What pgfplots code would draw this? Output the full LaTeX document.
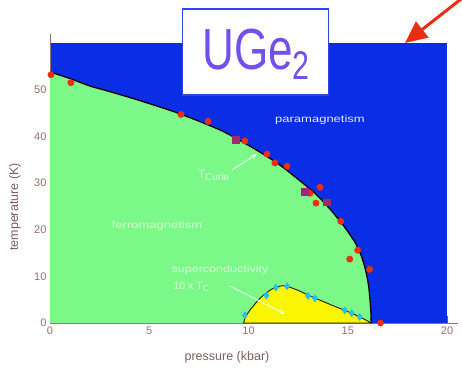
\documentclass[border=0pt]{standalone}
\usepackage{fontspec}
\setmainfont{Liberation Sans}
\usepackage{graphicx}
\usepackage{pgfplots}
\pgfplotsset{compat=1.18}
\usetikzlibrary{arrows.meta}
\definecolor{bgblue}{RGB}{10,46,230}
\definecolor{fmgreen}{RGB}{124,248,136}
\definecolor{scyellow}{RGB}{250,245,0}
\definecolor{ptred}{RGB}{235,45,20}
\definecolor{ptmag}{RGB}{160,40,110}
\definecolor{ptcyan}{RGB}{40,190,240}
\definecolor{ticklab}{RGB}{150,110,110}
\definecolor{tickcol}{RGB}{120,95,60}
\definecolor{titlecol}{RGB}{115,80,235}
\definecolor{boxblue}{RGB}{50,70,230}
\definecolor{txtwhite}{RGB}{225,235,255}
\begin{document}
\begin{tikzpicture}
\useasboundingbox (0,0) rectangle (462pt,368pt);
% axis line extensions beyond the plot area
\draw[ticklab!80!gray, line width=0.8pt] (50pt,325pt) -- (50pt,334pt);
\draw[ticklab!80!gray, line width=0.8pt] (447pt,45pt) -- (458pt,45pt);
\begin{axis}[
  at={(50pt,45pt)}, anchor=south west,
  scale only axis, width=397pt, height=280pt,
  xmin=0, xmax=20, ymin=0, ymax=60,
  axis background/.style={fill=bgblue},
  axis lines*=left,
  axis line style={draw=ticklab!80!gray, line width=0.8pt},
  tick align=inside,
  major tick length=7pt,
  every tick/.style={draw=tickcol, line width=0.9pt},
  xtick={0,5,10,15,20}, ytick={0,10,20,30,40,50},
  tick label style={font=\fontsize{11}{11}\selectfont, text=ticklab},
  /pgf/number format/assume math mode=true,
  clip mode=individual,
]
% ferromagnetic region
\addplot[draw=none, fill=fmgreen] coordinates {
(0,53.8) (1,52.4) (2,50.8) (3,49.6) (4.5,47.7) (6.5,44.9) (8.65,41.2)
(10.35,37.2) (11.5,34.1) (12.5,30.8) (13.4,27.6) (14.15,24.2) (14.8,20.8)
(15.35,17.4) (15.7,14.2) (15.9,11.3) (16.05,8) (16.12,5) (16.17,2) (16.18,0)
} \closedcycle;
\addplot[black, line width=1.3pt, smooth, tension=0.4] coordinates {
(0,53.8) (1,52.4) (2,50.8) (3,49.6) (4.5,47.7) (6.5,44.9) (8.65,41.2)
(10.35,37.2) (11.5,34.1) (12.5,30.8) (13.4,27.6) (14.15,24.2) (14.8,20.8)
(15.35,17.4) (15.7,14.2) (15.9,11.3) (16.05,8) (16.12,5) (16.17,2) (16.18,0)
};
% superconducting dome
\addplot[draw=black!80!brown, line width=0.9pt, fill=scyellow] coordinates {
(9.75,0) (9.85,1.4) (10.08,2.8) (10.35,4.2) (10.6,5.4) (10.85,6.3) (11.1,7.1)
(11.4,7.7) (11.7,8.0) (12.0,7.8) (12.5,7.0) (13.0,6.0) (13.6,4.9) (14.15,3.9)
(14.8,2.8) (15.35,1.8) (15.8,0.9) (16.1,0.2) (16.18,0)
} \closedcycle;
% Tc data (cyan diamonds)
\addplot[only marks, mark=diamond*, mark size=3.6pt, color=ptcyan] coordinates {
(9.82,1.7) (10.9,5.9) (11.38,7.6) (11.94,7.9) (13.0,5.8) (13.35,5.3)
(14.85,2.7) (15.2,2.1) (15.6,1.3)
};
% Curie data (red circles)
\addplot[only marks, mark=*, mark size=3.2pt, color=ptred] coordinates {
(0.05,53.2) (1.05,51.5) (6.6,44.7) (7.96,43.2) (9.82,39.0) (10.93,36.2)
(11.33,34.3) (11.94,33.6) (13.1,27.8) (13.6,29.1) (13.4,25.7) (14.65,21.8)
(15.5,15.6) (15.1,13.7) (16.1,11.5) (16.65,0)
};
% Curie data (magenta squares)
\addplot[only marks, mark=square*, mark size=3.4pt, color=ptmag] coordinates {
(9.37,39.2) (12.85,28.1) (13.95,25.9)
};
\end{axis}
% axis labels
\node[text=ticklab!85!black, font=\fontsize{12.5}{12.5}\selectfont] at (227pt,11pt) {pressure (kbar)};
\node[text=ticklab!85!black, font=\fontsize{12.5}{12.5}\selectfont, rotate=90] at (15pt,161pt) {temperature (K)};
% annotations
\node[text=txtwhite, font=\fontsize{10}{10}\selectfont] at (320pt,248pt) {\scalebox{1.3}[1]{paramagnetism}};
\node[text=white!85!green, font=\fontsize{10}{10}\selectfont] at (157pt,142pt) {\scalebox{1.3}[1]{ferromagnetism}};
\node[text=white!85!green, font=\fontsize{11}{11}\selectfont] at (214pt,193pt) {T$_{\mbox{\fontsize{10}{10}\selectfont Curie}}$};
\node[text=white!85!green, font=\fontsize{10}{10}\selectfont] at (220pt,98pt) {\scalebox{1.25}[1]{superconductivity}};
\node[text=white!85!green, font=\fontsize{10.5}{10.5}\selectfont, anchor=west] at (170pt,81pt) {10 x T$_{\mbox{\fontsize{9}{9}\selectfont C}}$};
\draw[white!90!green, line width=1pt, -{Stealth[length=6pt,width=5pt]}] (230pt,82pt) -- (285pt,54pt);
\draw[white!90!green, line width=1pt, -{Stealth[length=6pt,width=5pt]}] (232pt,198pt) -- (257pt,214pt);
% title box
\node[draw=boxblue, line width=1.6pt, fill=white, minimum width=146pt, minimum height=86pt, inner sep=0pt] at (255.5pt,316pt) {};
\node[text=titlecol, font=\fontsize{58}{58}\selectfont] at (256pt,314pt) {\scalebox{0.76}[1]{UGe\raisebox{-0.18em}{\fontsize{40}{40}\selectfont 2}}};
% red arrow
\draw[ptred, line width=3pt, -{Triangle[length=22pt,width=20pt]}] (470pt,376pt) -- (405pt,325pt);
\end{tikzpicture}
\end{document}
